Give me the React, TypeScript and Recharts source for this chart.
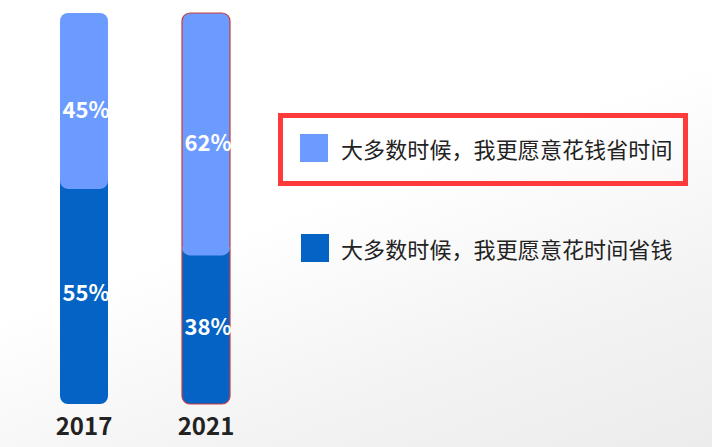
import React from 'react';
import { BarChart, Bar, XAxis, YAxis, LabelList } from 'recharts';

const categories = ['2017', '2021'];
const saveTimeValues = [45, 62];
const saveMoneyValues = [55, 38];
const seriesNames = ['大多数时候，我更愿意花钱省时间', '大多数时候，我更愿意花时间省钱'];
const highlightCategory = '2021';

const LIGHT = '#6B9BFF';
const DARK = '#0563C6';
const OUTLINE = '#CC3B3B';
const FONT = '"Noto Sans CJK SC", "Noto Sans", sans-serif';
const R = 8;

const data = categories.map((year, i) => ({
  year,
  saveMoney: saveMoneyValues[i],
  saveTime: saveTimeValues[i],
}));

const TopShape = (p: any) => {
  const { x, y, width: w, height: h, fill, payload } = p;
  if (!w || !h) return null;
  const d = `M${x},${y + R} A${R},${R} 0 0 1 ${x + R},${y} L${x + w - R},${y} A${R},${R} 0 0 1 ${x + w},${y + R} L${x + w},${y + h - R} A${R},${R} 0 0 1 ${x + w - R},${y + h} L${x + R},${y + h} A${R},${R} 0 0 1 ${x},${y + h - R} Z`;
  const outline = `M${x},${y + h - R} L${x},${y + R} A${R},${R} 0 0 1 ${x + R},${y} L${x + w - R},${y} A${R},${R} 0 0 1 ${x + w},${y + R} L${x + w},${y + h - R}`;
  return (
    <g>
      <path d={d} fill={fill} />
      {payload && payload.year === highlightCategory && (
        <path d={outline} fill="none" stroke={OUTLINE} strokeWidth={1.2} />
      )}
    </g>
  );
};

const BottomShape = (p: any) => {
  const { x, y, width: w, height: h, fill, payload } = p;
  if (!w || !h) return null;
  const top = y - R;
  const open = `M${x},${top} L${x},${y + h - R} A${R},${R} 0 0 0 ${x + R},${y + h} L${x + w - R},${y + h} A${R},${R} 0 0 0 ${x + w},${y + h - R} L${x + w},${top}`;
  return (
    <g>
      <path d={open + ' Z'} fill={fill} />
      {payload && payload.year === highlightCategory && (
        <path d={open} fill="none" stroke={OUTLINE} strokeWidth={1.2} />
      )}
    </g>
  );
};

const makeLabel = (dy: number) => (props: any) => {
  const { x, y, width, height, value } = props;
  return (
    <text
      x={x + width / 2 + 2}
      y={y + height / 2 + dy + 8}
      textAnchor="middle"
      fill="#ffffff"
      fontSize={22}
      fontWeight={700}
      fontFamily={FONT}
    >
      {value}%
    </text>
  );
};

const YearTick = (props: any) => {
  const { x, y, payload } = props;
  return (
    <text x={x} y={y + 23} textAnchor="middle" fill="#222222" fontSize={24} fontWeight={700} fontFamily={FONT}>
      {payload.value}
    </text>
  );
};

const LegendBlock = () => {
  const items = [
    { name: seriesNames[0], color: LIGHT },
    { name: seriesNames[1], color: DARK },
  ];
  return (
    <div style={{ position: 'absolute', left: 278, top: 113, width: 410, height: 160, fontFamily: FONT }}>
      <div
        style={{
          position: 'absolute',
          left: 0,
          top: 0,
          width: 410,
          height: 73,
          boxSizing: 'border-box',
          border: '5px solid #FF3A3A',
        }}
      />
      {items.map((it, i) => (
        <div
          key={i}
          style={{
            position: 'absolute',
            left: 22 + i,
            top: 21 + i * 100,
            height: 28,
            display: 'flex',
            alignItems: 'center',
            whiteSpace: 'nowrap',
          }}
        >
          <div style={{ width: 28, height: 28, background: it.color, flex: 'none' }} />
          <span
            style={{
              marginLeft: 13 - i,
              fontSize: 22,
              letterSpacing: 0.1,
              color: '#222222',
              lineHeight: '28px',
            }}
          >
            {it.name}
          </span>
        </div>
      ))}
    </div>
  );
};

export default function App() {
  return (
    <div
      style={{
        position: 'absolute',
        left: 0,
        top: 0,
        width: 712,
        height: 447,
        overflow: 'hidden',
        background: 'linear-gradient(160deg, #ffffff 0%, #ffffff 45%, #f3f3f3 75%, #ececec 100%)',
      }}
    >
      <BarChart
        width={712}
        height={447}
        data={data}
        margin={{ top: 13, right: 445, bottom: 13, left: 23 }}
      >
        <XAxis
          dataKey="year"
          axisLine={false}
          tickLine={false}
          height={30}
          tick={<YearTick />}
          interval={0}
        />
        <YAxis hide domain={[0, 100]} />
        <Bar
          dataKey="saveMoney"
          name={seriesNames[1]}
          stackId="a"
          fill={DARK}
          barSize={48}
          shape={<BottomShape />}
          isAnimationActive={false}
        >
          <LabelList dataKey="saveMoney" content={makeLabel(-3)} />
        </Bar>
        <Bar
          dataKey="saveTime"
          name={seriesNames[0]}
          stackId="a"
          fill={LIGHT}
          barSize={48}
          shape={<TopShape />}
          isAnimationActive={false}
        >
          <LabelList dataKey="saveTime" content={makeLabel(9)} />
        </Bar>
      </BarChart>
      <LegendBlock />
    </div>
  );
}
